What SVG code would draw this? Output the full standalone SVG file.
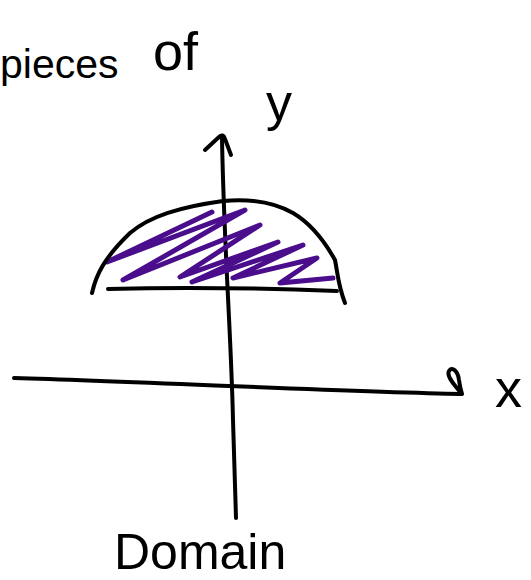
<svg xmlns="http://www.w3.org/2000/svg" width="531" height="580" viewBox="0 0 531 580">
<style>
.ink{fill:none;stroke:#000;stroke-width:4;stroke-linecap:round;stroke-linejoin:round}
.hatch{fill:none;stroke:#4a0d8c;stroke-width:5;stroke-linecap:round;stroke-linejoin:round}
.hand{font-family:"Liberation Sans","DejaVu Sans",sans-serif;fill:#000}
</style>
<rect width="531" height="580" fill="#fff"/>
<g id="title">
<text class="hand" x="0" y="78" font-size="41">pieces</text>
<text class="hand" x="153" y="70" font-size="54">of</text>
</g>
<g id="connectors">
<path id="y-axis" class="ink" d="M222,138 C224,250 231,330 233,420 L236,518"/>
<path id="y-arrow" class="ink" d="M205,150 L219,137 Q223,133 225,139 L231,155"/>
<path id="x-axis" class="ink" d="M14,378 C150,382 350,392 462,394 C455,386 446,376 449,371 C452,366 458,371 459,380 C460,387 461,391 462,394"/>
</g>
<g id="region">
<path class="hatch" d="M212,212 L107,262 L245,210 L123,280 L260,225 L180,277 L278,242 L192,282 L303,245 L233,278 L317,258 L280,283 L333,278"/>
<path class="ink" d="M92,293 C96,275 104,258 130,233 C150,216 180,207 223,201 C245,199 270,200 293,213 C310,223 325,242 335,260 C338,275 338,285 345,303"/>
<path class="ink" d="M108,289 C180,287 260,288 337,291"/>
</g>
<g id="label-y"><text class="hand" x="266" y="120" font-size="52">y</text></g>
<g id="label-x"><text class="hand" x="495" y="407" font-size="54">x</text></g>
<g id="label-domain"><text class="hand" x="114" y="569" font-size="50">Domain</text></g>
</svg>
